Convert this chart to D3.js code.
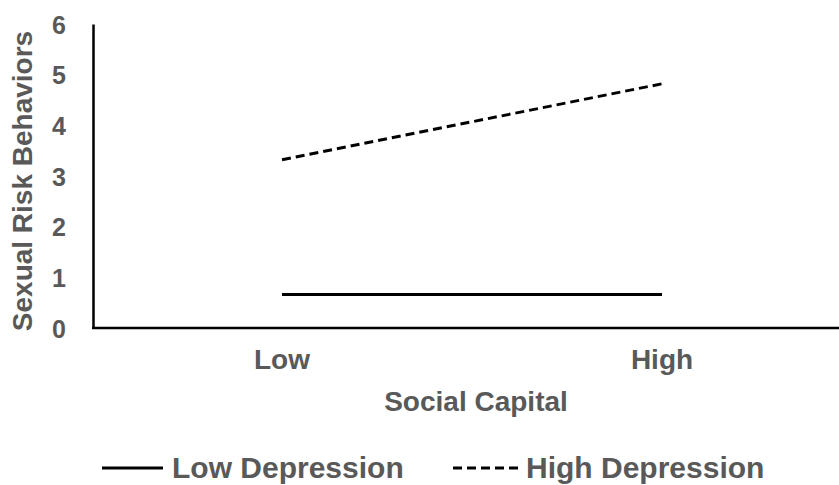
<!DOCTYPE html>
<html>
<head>
<meta charset="utf-8">
<script src="https://cdn.jsdelivr.net/npm/d3@7"></script>
<style>
  html, body { margin: 0; padding: 0; background: #fff; }
  svg { display: block; }
  text { font-family: Arial, "Liberation Sans", sans-serif; font-weight: bold; fill: #595959; }
</style>
</head>
<body>
<script>
const categories = ["Low", "High"];
const lowDepression = [0.66, 0.66];
const highDepression = [3.32, 4.82];
const yTicks = [0, 1, 2, 3, 4, 5, 6];
const seriesNames = ["Low Depression", "High Depression"];
const xTitle = "Social Capital";
const yTitle = "Sexual Risk Behaviors";

const W = 839, H = 485;
const svg = d3.select("body").append("svg").attr("width", W).attr("height", H);

const x = d3.scalePoint().domain(categories).range([282, 662]);
const y = d3.scaleLinear().domain([0, 6]).range([328, 24]);

// Y axis
const yAxis = svg.append("g").attr("transform", "translate(93,0)")
  .call(d3.axisLeft(y).tickValues(yTicks).tickSize(0).tickPadding(27).tickFormat(d3.format("d")));
yAxis.select(".domain").attr("stroke", "#000").attr("stroke-width", 2.5);
yAxis.selectAll("text").style("font-size", "25px").attr("fill", "#595959").attr("dy", "0.36em");

// X axis
const xAxisG = svg.append("g").attr("transform", "translate(0,328)");
xAxisG.append("line").attr("x1", 92).attr("x2", W).attr("y1", 0).attr("y2", 0)
  .attr("stroke", "#000").attr("stroke-width", 2.5);
xAxisG.selectAll("text.cat").data(categories).join("text")
  .attr("class", "cat")
  .attr("x", d => x(d)).attr("y", 41)
  .attr("text-anchor", "middle").style("font-size", "28px").text(d => d);

// Axis titles
svg.append("text").attr("x", 476).attr("y", 411).attr("text-anchor", "middle")
  .style("font-size", "28px").text(xTitle);
svg.append("text").attr("transform", "translate(32,181) rotate(-90)")
  .attr("text-anchor", "middle").style("font-size", "28px").text(yTitle);

// Lines
const line = d3.line().x((d, i) => x(categories[i])).y(d => y(d));
svg.append("path").datum(lowDepression).attr("d", line)
  .attr("fill", "none").attr("stroke", "#000").attr("stroke-width", 3);
svg.append("path").datum(highDepression).attr("d", line)
  .attr("fill", "none").attr("stroke", "#000").attr("stroke-width", 3)
  .attr("stroke-dasharray", "9,5");

// Legend
const legend = svg.append("g");
legend.append("line").attr("x1", 102).attr("x2", 163).attr("y1", 468).attr("y2", 468)
  .attr("stroke", "#000").attr("stroke-width", 3);
legend.append("text").attr("x", 172).attr("y", 478).style("font-size", "30px").text(seriesNames[0]);
legend.append("line").attr("x1", 453).attr("x2", 518).attr("y1", 468).attr("y2", 468)
  .attr("stroke", "#000").attr("stroke-width", 3).attr("stroke-dasharray", "9,5");
legend.append("text").attr("x", 526).attr("y", 478).style("font-size", "30px").text(seriesNames[1]);
</script>
</body>
</html>
